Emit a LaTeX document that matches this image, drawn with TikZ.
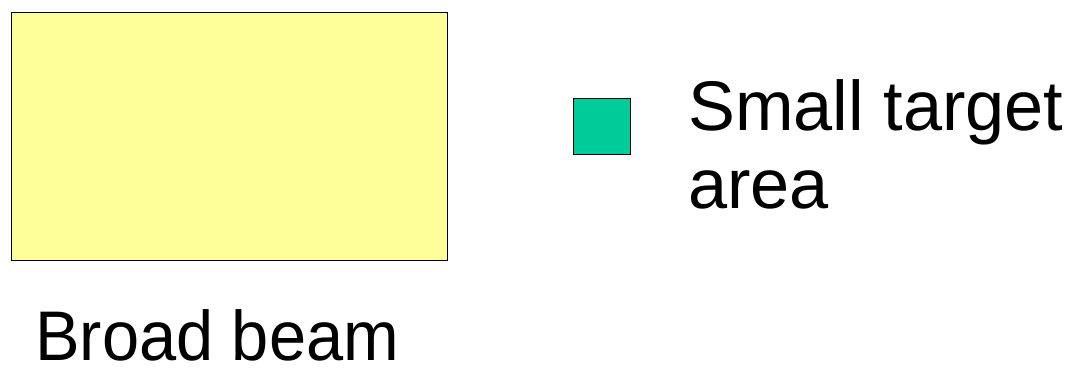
\documentclass[tikz,border=0pt]{standalone}
\usepackage{fontspec}
\setmainfont{Liberation Sans}
\definecolor{beamyellow}{HTML}{FFFF99}
\definecolor{targetgreen}{HTML}{00CC99}
\begin{document}
\begin{tikzpicture}[x=0.02cm,y=-0.02cm,
  lbl/.style={anchor=base west,inner sep=0pt,font=\fontsize{40}{48}\selectfont}]
\useasboundingbox (0,0) rectangle (1091,376);
\node[draw=black,line width=0.8pt,fill=beamyellow,minimum width=436*0.02cm,minimum height=248*0.02cm,inner sep=0pt,anchor=north west] (beam) at (11,12) {};
\node[draw=black,line width=0.8pt,fill=targetgreen,minimum width=57*0.02cm,minimum height=56*0.02cm,inner sep=0pt,anchor=north west] (target) at (573,98) {};
\node[lbl] (t1) at (688,130) {Small target};
\node[lbl] (t2) at (688,208) {area};
\node[lbl,xscale=0.95] (t3) at (35,360) {Broad beam};
\end{tikzpicture}
\end{document}
